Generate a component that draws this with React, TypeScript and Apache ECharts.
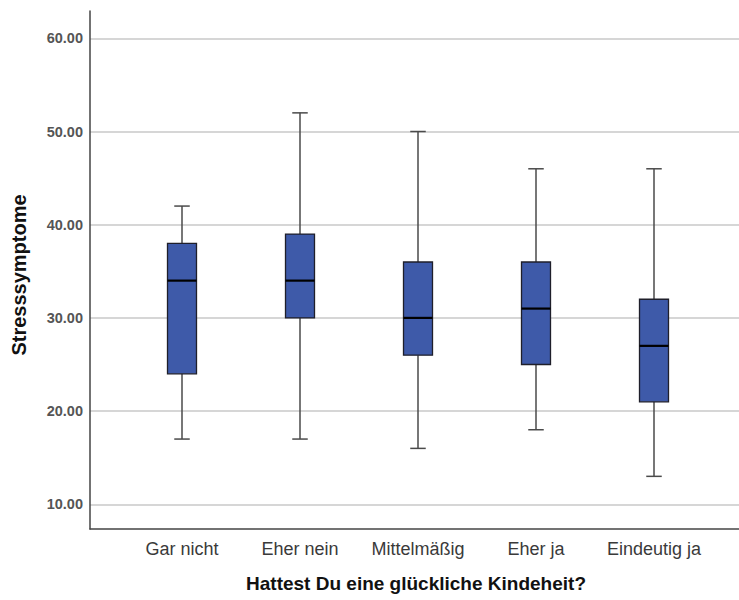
import React, { useEffect, useRef } from "react";
import * as echarts from "echarts";

const categories = ["Gar nicht", "Eher nein", "Mittelmäßig", "Eher ja", "Eindeutig ja"];
const minValues = [17, 17, 16, 18, 13];
const q1Values = [24, 30, 26, 25, 21];
const medianValues = [34, 34, 30, 31, 27];
const q3Values = [38, 39, 36, 36, 32];
const maxValues = [42, 52, 50, 46, 46];

const yMin = 7.35;
const yMax = 62.93;
const FONT = "'Liberation Sans', Arial, sans-serif";

export default function App() {
  const ref = useRef<HTMLDivElement>(null);
  useEffect(() => {
    if (!ref.current) return;
    const chart = echarts.init(ref.current, null, { renderer: "svg" });
    const data = categories.map((c, i) => [i, minValues[i], q1Values[i], medianValues[i], q3Values[i], maxValues[i]]);
    const option: any = {
      animation: false,
      backgroundColor: "#ffffff",
      grid: [
        { left: 90, right: 0, top: 11, bottom: 71, containLabel: false },
        { left: 123, right: 26, top: 11, bottom: 71, containLabel: false },
      ],
      xAxis: [
        {
          type: "value",
          gridIndex: 0,
          min: 0,
          max: 1,
          axisLine: { show: true, lineStyle: { color: "#444", width: 1.5 } },
          axisTick: { show: false },
          axisLabel: { show: false },
          splitLine: { show: false },
        },
        {
          type: "category",
          gridIndex: 1,
          data: categories,
          axisLine: { show: false },
          axisTick: { show: false },
          axisLabel: {
            interval: 0,
            hideOverlap: false,
            margin: 11,
            fontSize: 18,
            color: "#3a3a3a",
            fontFamily: FONT,
          },
          splitLine: { show: false },
        },
      ],
      yAxis: [
        {
          type: "value",
          gridIndex: 0,
          min: yMin,
          max: yMax,
          axisLine: { show: true, lineStyle: { color: "#444", width: 1.5 } },
          axisTick: { show: false },
          axisLabel: {
            showMinLabel: false,
            showMaxLabel: false,
            margin: 7,
            fontSize: 14.5,
            fontWeight: "bold",
            color: "#555",
            fontFamily: FONT,
            formatter: (v: number) => (Math.abs(v % 10) < 1e-6 ? v.toFixed(2) : ""),
          },
          splitLine: { show: true, showMinLine: false, showMaxLine: false, lineStyle: { color: "#c8c8c8", width: 1.5 } },
        },
        {
          type: "value",
          gridIndex: 1,
          min: yMin,
          max: yMax,
          show: false,
          splitLine: { show: false },
        },
      ],
      graphic: [
        {
          type: "text",
          x: 18.5,
          y: 275,
          rotation: Math.PI / 2,
          style: {
            text: "Stresssymptome",
            fontSize: 20,
            fontWeight: "bold",
            fontFamily: FONT,
            fill: "#111",
            align: "center",
            verticalAlign: "middle",
          },
        },
        {
          type: "text",
          x: 416,
          y: 583,
          style: {
            text: "Hattest Du eine glückliche Kindeheit?",
            fontSize: 19,
            fontWeight: "bold",
            fontFamily: FONT,
            fill: "#111",
            align: "center",
            verticalAlign: "middle",
          },
        },
      ],
      series: [
        {
          type: "custom",
          xAxisIndex: 1,
          yAxisIndex: 1,
          data,
          renderItem: (params: any, api: any) => {
            const idx = api.value(0);
            const pMin = api.coord([idx, api.value(1)]);
            const pQ1 = api.coord([idx, api.value(2)]);
            const pMed = api.coord([idx, api.value(3)]);
            const pQ3 = api.coord([idx, api.value(4)]);
            const pMax = api.coord([idx, api.value(5)]);
            const x = pMed[0];
            const bw = 29;
            const cw = 15.5;
            const whisker = { stroke: "#4a4a4a", lineWidth: 1.5 };
            return {
              type: "group",
              children: [
                { type: "line", shape: { x1: x, y1: pQ3[1], x2: x, y2: pMax[1] }, style: whisker },
                { type: "line", shape: { x1: x, y1: pQ1[1], x2: x, y2: pMin[1] }, style: whisker },
                { type: "line", shape: { x1: x - cw / 2, y1: pMax[1], x2: x + cw / 2, y2: pMax[1] }, style: whisker },
                { type: "line", shape: { x1: x - cw / 2, y1: pMin[1], x2: x + cw / 2, y2: pMin[1] }, style: whisker },
                {
                  type: "rect",
                  shape: { x: x - bw / 2, y: pQ3[1], width: bw, height: pQ1[1] - pQ3[1] },
                  style: { fill: "#3e5aa9", stroke: "#1f1f2a", lineWidth: 1.3 },
                },
                {
                  type: "line",
                  shape: { x1: x - bw / 2, y1: pMed[1], x2: x + bw / 2, y2: pMed[1] },
                  style: { stroke: "#000", lineWidth: 2.2 },
                },
              ],
            };
          },
        },
      ],
    };
    chart.setOption(option);
    return () => chart.dispose();
  }, []);
  return (
    <div
      ref={ref}
      style={{ position: "absolute", left: 0, top: 0, width: 739, height: 600, background: "#fff" }}
    />
  );
}
